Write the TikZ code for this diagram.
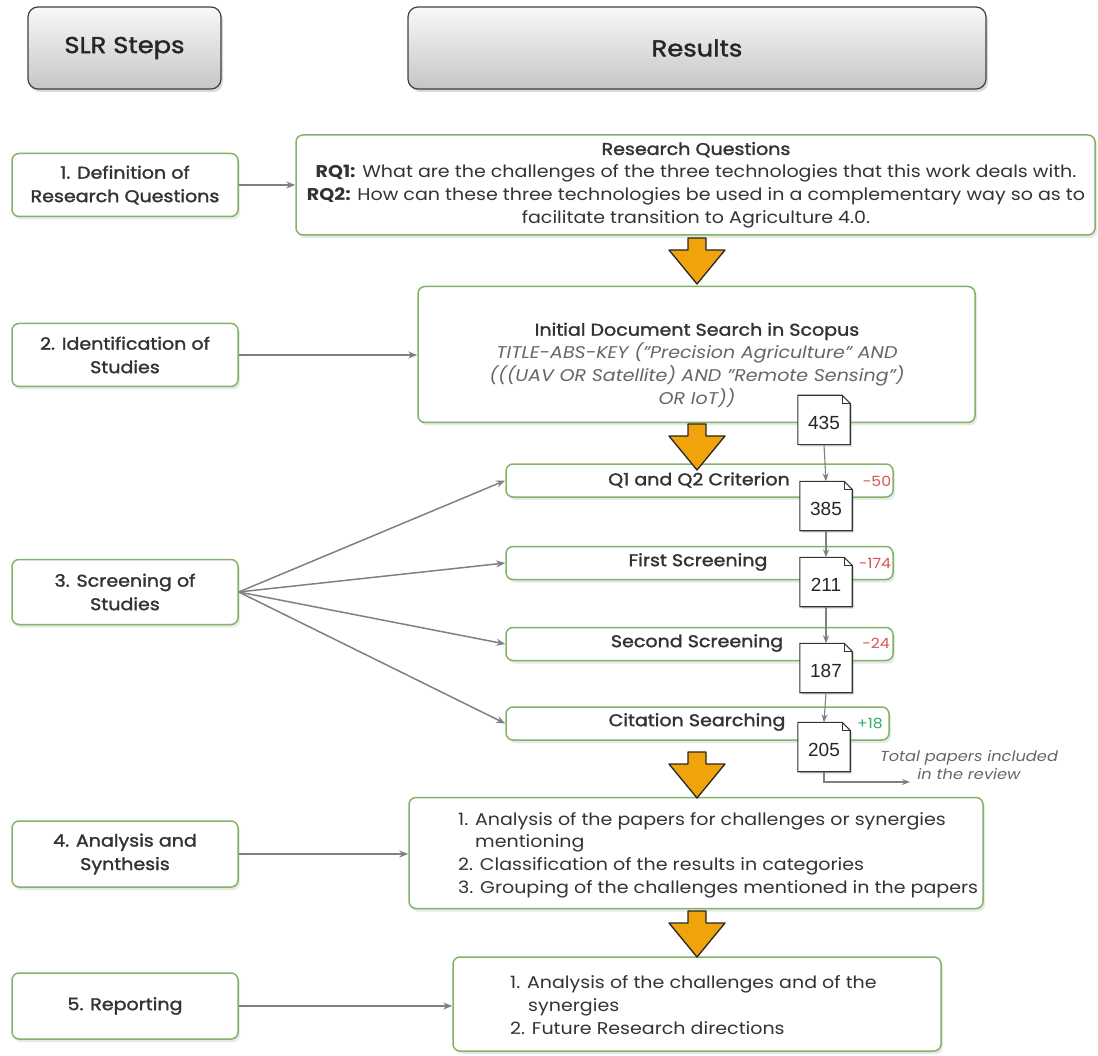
\documentclass[tikz,border=0pt]{standalone}
\usepackage{fontspec}
\setmainfont{Poppins}[FakeStretch=1.12]
\newfontfamily\med{Poppins}[FakeStretch=1.12, FakeBold=1.6]
\newfontfamily\numfont{Liberation Sans}
\usetikzlibrary{shadows,calc,arrows.meta}
\definecolor{gborder}{HTML}{82B366}
\definecolor{orangeA}{HTML}{F0A30A}
\definecolor{redc}{HTML}{D9534F}
\definecolor{greenc}{HTML}{2EAD6B}
\definecolor{linec}{HTML}{808080}
\definecolor{txt}{HTML}{333333}
\newcommand\docbox[3]{%
  \node[docn] (#1) at #2 {};
  \draw[docline, fill=white, drop shadow={opacity=0.3,shadow xshift=2pt,shadow yshift=-2pt}]
    (#1.south west) -- (#1.north west) -- ([xshift=-8pt]#1.north east)
    -- ([yshift=-8pt]#1.north east) -- (#1.south east) -- cycle;
  \draw[docline] ([xshift=-8pt]#1.north east) -- ([xshift=-8pt,yshift=-8pt]#1.north east) -- ([yshift=-8pt]#1.north east);
  \node[font=\numfont\fontsize{19}{21}\selectfont, text=black!85] at ([yshift=-3pt]#1.center) {#3};
}
\begin{document}
\begin{tikzpicture}[x=1pt,y=-1pt,
  hdr/.style={draw=black!75, line width=1.2pt, rounded corners=10pt,
    top color=gray!5, bottom color=gray!45, inner sep=0pt,
    drop shadow={opacity=0.3,shadow xshift=2pt,shadow yshift=-3pt},
    font=\med\fontsize{23}{26}\selectfont, text=black!85},
  gbox/.style={draw=gborder, line width=1.5pt, rounded corners=7pt, fill=white,
    drop shadow={opacity=0.18,shadow xshift=2pt,shadow yshift=-3pt},
    inner sep=0pt, text=txt},
  stepbox/.style={gbox, align=center, font=\med\fontsize{17}{23.5}\selectfont},
  body/.style={font=\fontsize{17}{22.8}\selectfont, text=txt, inner sep=0pt},
  docn/.style={minimum width=52pt, minimum height=49pt, inner sep=0pt},
  docline/.style={draw=black!80, line width=1.1pt},
  flow/.style={draw=linec, line width=1.5pt, -{Stealth[length=9pt,width=7pt]}},
  vflow/.style={draw=linec, line width=1.1pt, -{Stealth[length=8pt,width=6pt]}},
  cnt/.style={font=\fontsize{14}{16}\selectfont},
  pics/bigarrow/.style={code={
    \draw[fill=orangeA, draw=black!85, line width=1.3pt, line join=round]
      (-9,0) -- (9,0) -- (9,12) -- (28,12) -- (0,46) -- (-28,12) -- (-9,12) -- cycle;}}
]
\useasboundingbox (0,0) rectangle (1098,1056);

% headers
\node[hdr, minimum width=193pt, minimum height=82pt] (hslr) at (124.5,48) {SLR Steps};
\node[hdr, minimum width=578pt, minimum height=82pt] (hres) at (697,48) {Results};

% left step boxes
\node[stepbox, minimum width=226pt, minimum height=63pt] (s1) at (125,185) {1. Definition of\\Research Questions};
\node[stepbox, minimum width=226pt, minimum height=63pt] (s2) at (125,355) {2. Identification of\\Studies};
\node[stepbox, minimum width=226pt, minimum height=65pt] (s3) at (125,592) {3. Screening of\\Studies};
\node[stepbox, minimum width=226pt, minimum height=66pt] (s4) at (125,854) {4. Analysis and\\Synthesis};
\node[stepbox, minimum width=226pt, minimum height=66pt] (s5) at (125,1006) {5. Reporting};

% right boxes
\node[gbox, minimum width=799pt, minimum height=100pt] (rq) at (695.5,185) {};
\node[body, align=center] (rqt) at (696,185) {{\med Research Questions}\\
  \textbf{RQ1:} What are the challenges of the three technologies that this work deals with.\\
  \textbf{RQ2:} How can these three technologies be used in a complementary way so as to\\
  facilitate transition to Agriculture 4.0.};

\node[gbox, minimum width=557pt, minimum height=136pt] (srch) at (696.5,354.5) {};
\node[body, align=center] (srcht) at (697,365) {{\med Initial Document Search in Scopus}\\
  {\color{black!60}\itshape TITLE-ABS-KEY ("Precision Agriculture" AND}\\
  {\color{black!60}\itshape (((UAV OR Satellite) AND "Remote Sensing")}\\
  {\color{black!60}\itshape OR IoT))}};

\node[gbox, minimum width=387pt, minimum height=33pt] (q1) at (699.5,480.5) {};
\node[body, font=\med\fontsize{17}{20}\selectfont] (q1t) at (699,480) {Q1 and Q2 Criterion};
\node[gbox, minimum width=387pt, minimum height=33pt] (fs) at (699.5,563) {};
\node[body, font=\med\fontsize{17}{20}\selectfont] (fst) at (698,562) {First Screening};
\node[gbox, minimum width=387pt, minimum height=33pt] (ss) at (699.5,644) {};
\node[body, font=\med\fontsize{17}{20}\selectfont] (sst) at (697,643) {Second Screening};
\node[gbox, minimum width=383pt, minimum height=33pt] (cs) at (697.5,723.5) {};
\node[body, font=\med\fontsize{17}{20}\selectfont] (cst) at (697,722) {Citation Searching};

\node[gbox, minimum width=574pt, minimum height=111pt] (an) at (696,853) {};
\node[body, align=left, anchor=west] (ant) at (458,855) {1. Analysis of the papers for challenges or synergies\\
  \hspace*{17pt}mentioning\\
  2. Classification of the results in categories\\
  3. Grouping of the challenges mentioned in the papers};

\node[gbox, minimum width=488pt, minimum height=94pt] (rp) at (697,1004) {};
\node[body, align=left, anchor=west] (rpt) at (510,1005) {1. Analysis of the challenges and of the\\
  \hspace*{18pt}synergies\\
  2. Future Research directions};

% connectors from steps
\draw[flow] (s1.east) -- (s1.east -| rq.west);
\draw[flow] (s2.east) -- (s2.east -| srch.west);
\draw[flow] (s3.east) -- (q1.west);
\draw[flow] (s3.east) -- (fs.west);
\draw[flow] (s3.east) -- (ss.west);
\draw[flow] (s3.east) -- (cs.west);
\draw[flow] (s4.east) -- (s4.east -| an.west);
\draw[flow] (s5.east) -- (s5.east -| rp.west);

% big arrows
\pic at (697,238) {bigarrow};
\pic at (697,424) {bigarrow};
\pic at (697,752) {bigarrow};
\pic at (697,911) {bigarrow};

% document counters
\docbox{d435}{(824,420)}{435}
\docbox{d385}{(826,506)}{385}
\docbox{d211}{(826,582)}{211}
\docbox{d187}{(826,668)}{187}
\docbox{d205}{(824,747)}{205}
\draw[vflow] (d435.south) -- (d385.north);
\draw[vflow] (d385.south) -- (d211.north);
\draw[vflow] (d211.south) -- (d187.north);
\draw[vflow] (d187.south) -- (d205.north);
\coordinate (tot) at (910,782);
\draw[vflow] (d205.south) |- (tot);
\node[cnt, text=redc] (c50) at (877,481) {-50};
\node[cnt, text=redc] (c174) at (875,563) {-174};
\node[cnt, text=redc] (c24) at (876,643) {-24};
\node[cnt, text=greenc] (c18) at (870,723) {+18};
\node[font=\fontsize{14.5}{18}\selectfont\itshape, text=black!60, align=center] (totl) at (969,765) {Total papers included\\in the review};
\end{tikzpicture}
\end{document}
